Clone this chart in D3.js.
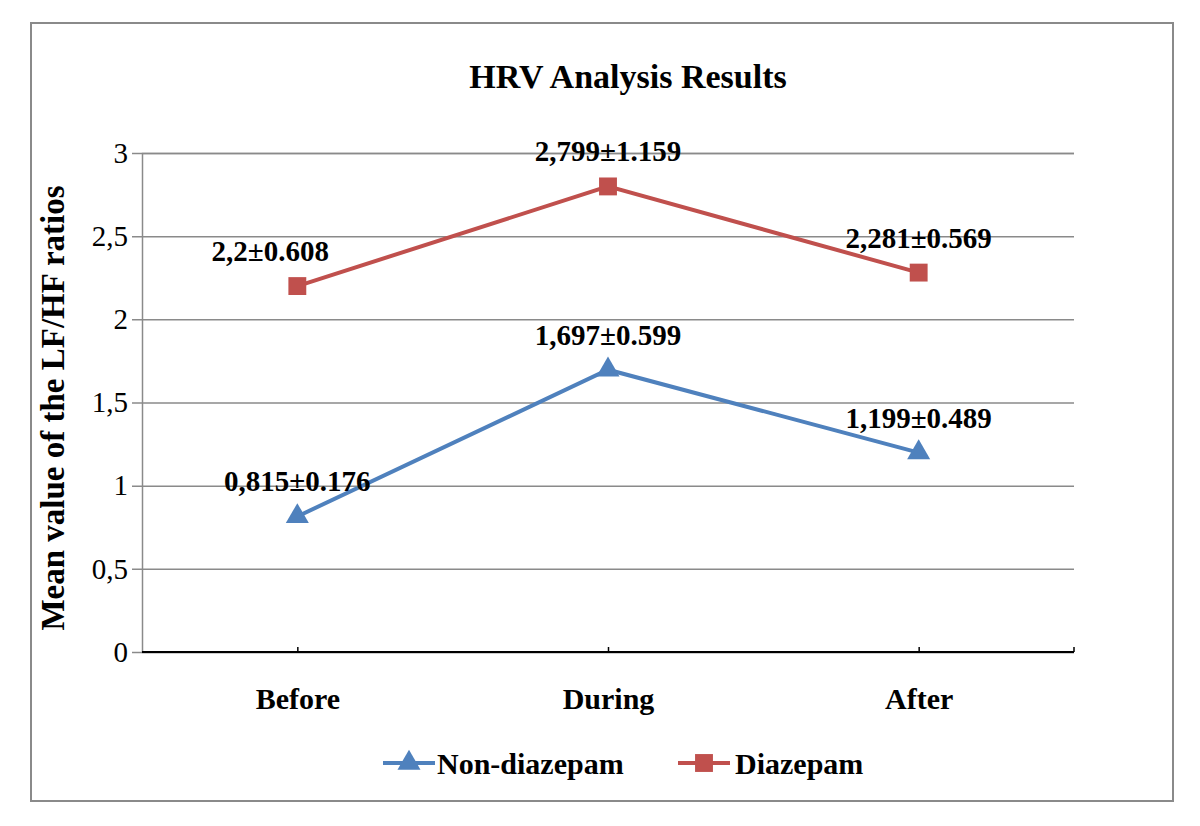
<!DOCTYPE html>
<html>
<head>
<meta charset="utf-8">
<script src="https://cdn.jsdelivr.net/npm/d3@7"></script>
<style>
  html, body { margin: 0; padding: 0; background: #fff; }
  svg text { font-family: "Liberation Serif", "Times New Roman", serif; }
</style>
</head>
<body>
<div id="chart"></div>
<script>
// chart data
const categories = ["Before", "During", "After"];
const nonDiazepam = [0.815, 1.697, 1.199];
const nonDiazepamLabels = ["0,815±0.176", "1,697±0.599", "1,199±0.489"];
const diazepam = [2.2, 2.799, 2.281];
const diazepamLabels = ["2,2±0.608", "2,799±1.159", "2,281±0.569"];
const yTicks = [0, 0.5, 1, 1.5, 2, 2.5, 3];
const yTickLabels = ["0", "0,5", "1", "1,5", "2", "2,5", "3"];

const width = 1200, height = 826;
const plot = { left: 142, right: 1074, top: 153, bottom: 652 };

const blue = "#4f81bd", red = "#c0504d";

const svg = d3.select("#chart")
  .append("svg")
  .attr("width", width)
  .attr("height", height);

// outer frame
svg.append("rect")
  .attr("x", 31).attr("y", 23)
  .attr("width", 1142).attr("height", 778)
  .attr("fill", "#fff")
  .attr("stroke", "#8a8a8a")
  .attr("stroke-width", 2);

const x = d3.scalePoint()
  .domain(categories)
  .range([plot.left, plot.right])
  .padding(0.5);

const y = d3.scaleLinear()
  .domain([0, 3])
  .range([plot.bottom, plot.top]);

// gridlines + y ticks
const yAxis = d3.axisLeft(y)
  .tickValues(yTicks)
  .tickSize(-(plot.right - plot.left))
  .tickFormat((d, i) => yTickLabels[i])
  .tickPadding(14);

const yg = svg.append("g")
  .attr("transform", `translate(${plot.left},0)`)
  .call(yAxis);
yg.select(".domain").attr("stroke", "#8a8a8a").attr("stroke-width", 1.5);
yg.selectAll(".tick line")
  .attr("x1", -10)
  .attr("stroke", "#8a8a8a")
  .attr("stroke-width", 1.5);
yg.selectAll(".tick text")
  .attr("font-size", 29)
  .attr("fill", "#000")
  .attr("font-family", "Liberation Serif, serif");

// x axis
const xg = svg.append("g")
  .attr("transform", `translate(0,${plot.bottom})`)
  .call(d3.axisBottom(x).tickSize(-5).tickPadding(36));
xg.select(".domain")
  .attr("d", `M${plot.left},0H${plot.right}`)
  .attr("stroke", "#000")
  .attr("stroke-width", 2);
xg.selectAll(".tick line").attr("stroke", "#000").attr("stroke-width", 1.5);
xg.selectAll(".tick text")
  .attr("font-size", 30)
  .attr("font-weight", "bold")
  .attr("fill", "#000")
  .attr("font-family", "Liberation Serif, serif");
xg.append("line")
  .attr("x1", plot.right).attr("x2", plot.right)
  .attr("y1", -5).attr("y2", 0)
  .attr("stroke", "#000").attr("stroke-width", 1.5);

// title
svg.append("text")
  .attr("x", 628).attr("y", 88)
  .attr("text-anchor", "middle")
  .attr("font-size", 34)
  .attr("font-weight", "bold")
  .text("HRV Analysis Results");

// y title
svg.append("text")
  .attr("transform", "translate(64,408) rotate(-90)")
  .attr("text-anchor", "middle")
  .attr("font-size", 33)
  .attr("font-weight", "bold")
  .text("Mean value of the LF/HF ratios");

const series = [
  { name: "Non-diazepam", values: nonDiazepam, labels: nonDiazepamLabels, color: blue, shape: d3.symbolTriangle, size: 230 },
  { name: "Diazepam", values: diazepam, labels: diazepamLabels, color: red, shape: d3.symbolSquare, size: 320 }
];

const line = d3.line()
  .x((d, i) => x(categories[i]))
  .y(d => y(d));

// label nudges (px)
const labelDx = { "2,2±0.608": -27 };

series.forEach(s => {
  svg.append("path")
    .datum(s.values)
    .attr("fill", "none")
    .attr("stroke", s.color)
    .attr("stroke-width", 4)
    .attr("d", line);

  svg.append("g")
    .selectAll("path")
    .data(s.values)
    .join("path")
    .attr("d", d3.symbol().type(s.shape).size(s.size))
    .attr("transform", (d, i) => `translate(${x(categories[i])},${y(d)})`)
    .attr("fill", s.color);

  svg.append("g")
    .selectAll("text")
    .data(s.values)
    .join("text")
    .attr("x", (d, i) => x(categories[i]) + (labelDx[s.labels[i]] || 0))
    .attr("y", d => y(d) - 25)
    .attr("text-anchor", "middle")
    .attr("font-size", 29)
    .attr("font-weight", "bold")
    .text((d, i) => s.labels[i]);
});

// legend
const legend = svg.append("g");
const legendItems = [
  { s: series[0], x0: 383, tx: 437 },
  { s: series[1], x0: 678, tx: 735 }
];
legendItems.forEach(it => {
  legend.append("line")
    .attr("x1", it.x0).attr("x2", it.x0 + 52)
    .attr("y1", 763).attr("y2", 763)
    .attr("stroke", it.s.color)
    .attr("stroke-width", 4);
  legend.append("path")
    .attr("d", d3.symbol().type(it.s.shape).size(it.s.size))
    .attr("transform", `translate(${it.x0 + 26},763)`)
    .attr("fill", it.s.color);
  legend.append("text")
    .attr("x", it.tx).attr("y", 774)
    .attr("font-size", 30)
    .attr("font-weight", "bold")
    .text(it.s.name);
});
</script>
</body>
</html>
